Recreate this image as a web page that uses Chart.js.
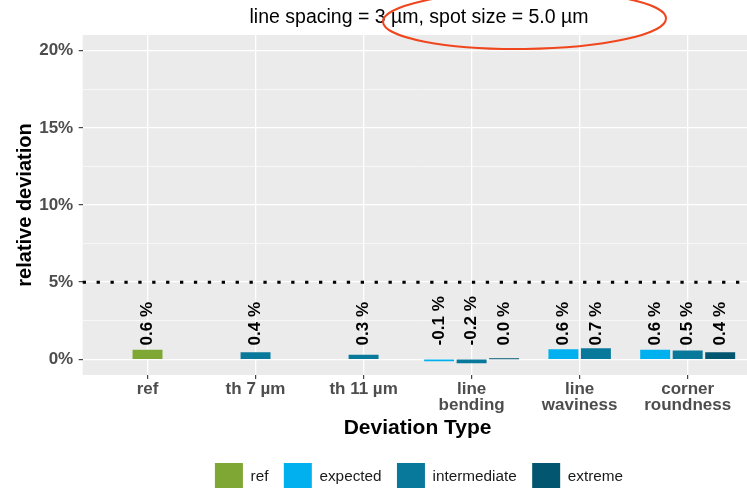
<!DOCTYPE html>
<html>
<head>
<meta charset="utf-8">
<script src="https://cdn.jsdelivr.net/npm/chart.js@4.4.1/dist/chart.umd.min.js"></script>
<style>
  html, body { margin: 0; padding: 0; background: #ffffff; overflow: hidden; width: 747px; height: 488px; }
  #wrap { position: absolute; left: 0; top: 0; width: 838px; height: 501px; }
  canvas { display: block; }
</style>
</head>
<body>
<div id="wrap"><canvas id="c" width="838" height="501" style="width:838px;height:501px;"></canvas></div>
<script>
const FONT = "'Liberation Sans', Arial, Helvetica, sans-serif";

// ---- data ----
const categories = ['ref', 'th 7 µm', 'th 11 µm', 'line bending', 'line waviness', 'corner roundness'];
const tickLabels = [['ref'], ['th 7 µm'], ['th 11 µm'], ['line', 'bending'], ['line', 'waviness'], ['corner', 'roundness']];
const seriesNames = ['ref', 'expected', 'intermediate', 'extreme'];
const refValues          = [0.6,  null, null, null,  null, null];
const expectedValues     = [null, null, null, -0.1,  0.63, 0.6];
const intermediateValues = [null, 0.44, 0.27, -0.24, 0.7,  0.54];
const extremeValues      = [null, null, null, 0.03,  null, 0.44];
const yTickValues  = [0, 5, 10, 15, 20];
const yMinorValues = [2.5, 7.5, 12.5, 17.5];
const thresholdValue = 5;
const labelBaseValue = 0.9;
const titleText = 'line spacing = 3 µm, spot size = 5.0 µm';

const seriesValues = [refValues, expectedValues, intermediateValues, extremeValues];
const seriesColors = ['#7FA734', '#00B0EF', '#08789B', '#03566F'];

const datasets = seriesNames.map((name, s) => ({
  label: name,
  data: categories.map((c, i) => ({ x: i, y: seriesValues[s][i] })),
  backgroundColor: seriesColors[s],
  borderColor: seriesColors[s],
  borderWidth: 0,
  barThickness: 32.5,
  maxBarThickness: 29.3,
  skipNull: true
}));

const isMajor = (v) => yTickValues.includes(v);

const panelBg = {
  id: 'panelBg',
  beforeDraw(chart) {
    const { ctx, chartArea: a } = chart;
    ctx.save();
    ctx.fillStyle = '#EBEBEB';
    ctx.fillRect(a.left, a.top, a.right - a.left, a.bottom - a.top);
    ctx.restore();
  }
};

const thresholdLine = {
  id: 'thresholdLine',
  afterDatasetsDraw(chart) {
    const { ctx, chartArea: a } = chart;
    const y = chart.scales.y.getPixelForValue(thresholdValue);
    ctx.save();
    ctx.strokeStyle = '#000000';
    ctx.lineWidth = 3;
    ctx.setLineDash([3.3, 10.6]);
    ctx.beginPath();
    ctx.moveTo(a.left, y);
    ctx.lineTo(a.right, y);
    ctx.stroke();
    ctx.restore();
  }
};

const barLabels = {
  id: 'barLabels',
  afterDatasetsDraw(chart) {
    const { ctx } = chart;
    const yPix = chart.scales.y.getPixelForValue(labelBaseValue);
    ctx.save();
    ctx.font = 'bold 17px ' + FONT;
    ctx.fillStyle = '#000000';
    ctx.textAlign = 'left';
    ctx.textBaseline = 'middle';
    seriesValues.forEach((vals, s) => {
      const meta = chart.getDatasetMeta(s);
      vals.forEach((v, i) => {
        if (v === null) return;
        const el = meta.data[i];
        ctx.save();
        ctx.translate(el.x, yPix);
        ctx.rotate(-Math.PI / 2);
        ctx.fillText(v.toFixed(1) + ' %', 0, 0);
        ctx.restore();
      });
    });
    ctx.restore();
  }
};

const annotationEllipse = {
  id: 'annotationEllipse',
  afterDraw(chart) {
    const { ctx } = chart;
    ctx.save();
    ctx.strokeStyle = '#F0461E';
    ctx.lineWidth = 2;
    ctx.beginPath();
    ctx.ellipse(524.5, 20, 141.5, 29, -0.012, 0, Math.PI * 2);
    ctx.stroke();
    ctx.restore();
  }
};

new Chart(document.getElementById('c'), {
  type: 'bar',
  data: { datasets },
  plugins: [panelBg, thresholdLine, barLabels, annotationEllipse],
  options: {
    responsive: false,
    animation: false,
    devicePixelRatio: 1,
    layout: { padding: 0 },
    scales: {
      x: {
        type: 'linear',
        min: -0.6,
        max: 5.6,
        offset: false,
        afterBuildTicks: (s) => { s.ticks = categories.map((c, i) => ({ value: i })); },
        afterFit: (s) => { s.height = 72.6; },
        grid: { offset: false, color: '#FFFFFF', lineWidth: 1.3, drawTicks: true, tickLength: 4, tickColor: '#333333', tickWidth: 1.1 },
        border: { display: false },
        ticks: {
          autoSkip: false, maxRotation: 0, minRotation: 0, padding: 3,
          color: '#4D4D4D',
          font: { family: FONT, size: 17, weight: 'bold', lineHeight: 0.9 },
          callback: (v) => tickLabels[v]
        },
        title: {
          display: true, text: 'Deviation Type', color: '#000000',
          font: { family: FONT, size: 21, weight: 'bold', lineHeight: 1.2 },
          padding: { top: 0, bottom: 6.7 }
        }
      },
      y: {
        type: 'linear',
        min: -1.02,
        max: 21.02,
        afterBuildTicks: (s) => { s.ticks = [...yTickValues, ...yMinorValues].sort((a, b) => a - b).map(v => ({ value: v })); },
        afterFit: (s) => { s.width = 82.7; },
        grid: {
          color: '#FFFFFF',
          lineWidth: (c) => (c.tick && isMajor(c.tick.value)) ? 1.3 : 0.6,
          drawTicks: true, tickLength: 4,
          tickColor: (c) => (c.tick && isMajor(c.tick.value)) ? '#333333' : 'rgba(0,0,0,0)',
          tickWidth: 1.1
        },
        border: { display: false },
        ticks: {
          padding: 5.5, color: '#4D4D4D',
          font: { family: FONT, size: 17, weight: 'bold' },
          callback: (v) => isMajor(v) ? v + '%' : ''
        },
        title: {
          display: true, text: 'relative deviation', color: '#000000',
          font: { family: FONT, size: 20, weight: 'bold', lineHeight: 1.2 },
          padding: { top: 13.5, bottom: 0 }
        }
      },
      yRight: {
        type: 'linear', position: 'right', display: true,
        afterFit: (s) => { s.width = 838 - 752.5; },
        grid: { display: false, drawTicks: false },
        border: { display: false },
        ticks: { display: false }
      }
    },
    plugins: {
      title: {
        display: true, text: titleText, color: '#000000',
        font: { family: FONT, size: 19.5, weight: 'normal', lineHeight: 1.2 },
        padding: { top: 5.9, bottom: 5.7 }
      },
      legend: {
        display: true, position: 'bottom',
        labels: { boxWidth: 28, boxHeight: 28, padding: 15.4, color: '#1A1A1A', font: { family: FONT, size: 15.3 } }
      },
      tooltip: { enabled: false }
    }
  }
});
</script>
</body>
</html>
